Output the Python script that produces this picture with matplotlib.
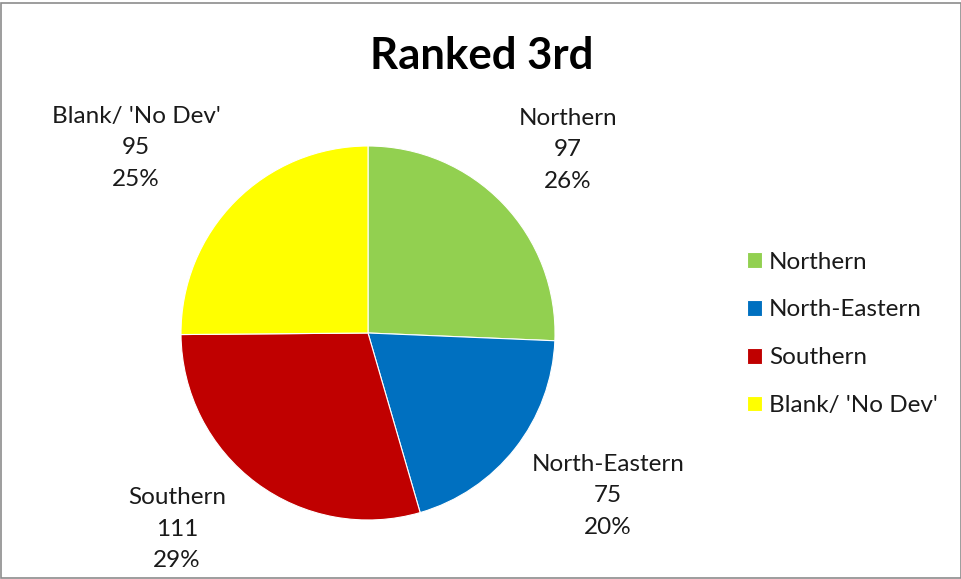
import matplotlib.pyplot as plt
from matplotlib.patches import Rectangle

# ranked 3rd counts by region
regions = ["Northern", "North-Eastern", "Southern", "Blank/ 'No Dev'"]
counts = [97, 75, 111, 95]
colours = ["#92D050", "#0070C0", "#C00000", "#FFFF00"]

# where each data label sits (pixel centre of the label block, from top-left)
label_pos = [(568, 150), (608, 496), (177, 529), (136, 148)]

W, H = 962, 579
plt.rcParams['font.family'] = ['Lato', 'DejaVu Sans']

fig = plt.figure(figsize=(W / 100, H / 100), dpi=100)

def px(x, y):
    # pixel from top-left -> figure fraction
    return x / W, 1 - y / H

# pie axes, square in pixels: centre (368, 333), radius 187
cx, cy, r = 368, 333, 187
ax = fig.add_axes([(cx - r) / W, (H - cy - r) / H, 2 * r / W, 2 * r / H])
wedges, _ = ax.pie(counts, colors=colours, startangle=90, counterclock=False,
                   radius=1, wedgeprops=dict(edgecolor="white", linewidth=0.8))
ax.set_xlim(-1, 1)
ax.set_ylim(-1, 1)
ax.set_aspect("auto")
ax.axis("off")

total = sum(counts)
for name, n, (lx, ly) in zip(regions, counts, label_pos):
    pct = round(100 * n / total)
    fig.text(*px(lx, ly), f"{name}\n{n}\n{pct}%", ha="center", va="center",
             fontsize=17.5, linespacing=1.6, color="#1a1a1a")

fig.text(*px(482, 56), "Ranked 3rd", ha="center", va="center",
         fontsize=31.5, fontweight="bold", color="black")

leg = fig.legend(wedges, regions, loc="upper left",
                 bbox_to_anchor=px(737, 242), frameon=False,
                 fontsize=17.5, handlelength=0.62, handleheight=0.62,
                 handletextpad=0.3, labelspacing=1.1, borderaxespad=0)
for t in leg.get_texts():
    t.set_color("#1a1a1a")

# chart area border
fig.patches.append(Rectangle(px(1, 578), 960 / W, 575 / H, transform=fig.transFigure,
                             fill=False, edgecolor="#8c8c8c", linewidth=1.2))

fig.savefig("out.png", dpi=100)
